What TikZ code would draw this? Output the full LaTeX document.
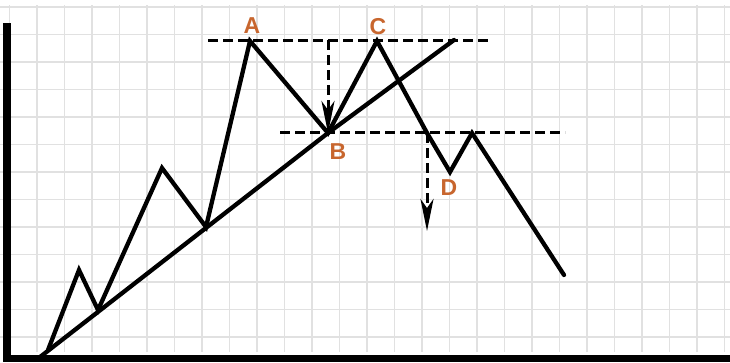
\documentclass[tikz,border=0pt]{standalone}
\usepackage{fontspec}
\setmainfont{Liberation Sans}
\usepackage{tikz}
\usepackage{xcolor}
\definecolor{ptorange}{RGB}{200, 102, 46}
\definecolor{ptgrid}{RGB}{225, 225, 225}
\usetikzlibrary{arrows.meta, positioning, calc}

\begin{document}
\begin{tikzpicture}[x=1pt, y=-1pt,
    price/.style={line width=4.3pt, line join=miter, line cap=round},
    level/.style={line width=3pt, dash pattern=on 10pt off 5pt},
    drop/.style={level, -{Stealth[length=32pt, width=13pt, inset=9pt]}},
    lbl/.style={text=ptorange, font=\bfseries\fontsize{23}{23}\selectfont, inner sep=0pt}]
    \useasboundingbox (0,0) rectangle (730,362);
    \fill[white] (0,0) rectangle (730,362);
    % Grade
    \foreach \k in {0,...,26}
      \draw[ptgrid, line width=1.8pt] (9.5+27.5*\k,5) -- (9.5+27.5*\k,352);
    \foreach \k in {0,...,12}
      \draw[ptgrid, line width=1.8pt] (0,7+27.5*\k) -- (730,7+27.5*\k);
    % Eixos
    \fill (3,23) rectangle (11,362);
    \fill (3,355) rectangle (730,362);
    % Pontos
    \coordinate (p0) at (48,350);
    \coordinate (p1) at (79,270);
    \coordinate (p2) at (98,310);
    \coordinate (p3) at (162,168);
    \coordinate (p4) at (206,227);
    \coordinate (A) at (250,41);
    \coordinate (B) at (328,133);
    \coordinate (C) at (377,41);
    \coordinate (br) at (427,133);
    \coordinate (D) at (450,172);
    \coordinate (p5) at (472,133);
    \coordinate (p6) at (564,275);
    \coordinate (t0) at (40,357);
    \coordinate (t1) at (454,40);
    % Niveis
    \draw[level] (208,40) -- (490,40);
    \draw[level] (280,132) -- (565,132);
    \draw[drop] (328,40) -- (B);
    \draw[drop] (br) -- (427,231);
    % Tendencia e preco
    \draw[price] (t0) -- (B) -- (t1);
    \draw[price] (p0) -- (p1) -- (p2) -- (p3) -- (p4) -- (A) -- (B) -- (C)
      -- (br) -- (D) -- (p5) -- (p6);
    % Rotulos
    \node[lbl] (labA) at (252,26) {A};
    \node[lbl] (labB) at (338,152) {B};
    \node[lbl] (labC) at (378,27) {C};
    \node[lbl] (labD) at (449,188) {D};
  \end{tikzpicture}
\end{document}
